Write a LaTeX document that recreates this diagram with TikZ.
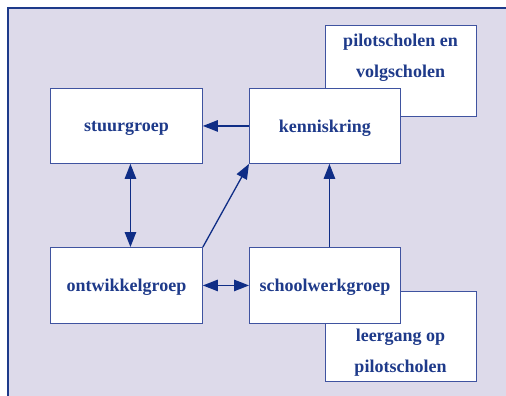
\documentclass[tikz,border=0pt]{standalone}
\usepackage{fontspec}
\setmainfont{Liberation Serif}
\usetikzlibrary{arrows.meta}
\definecolor{panel}{HTML}{DDDAEA}
\definecolor{frameline}{HTML}{1E3A8A}
\definecolor{ink}{HTML}{1E3A8A}
\definecolor{edge}{HTML}{3F53A0}
\definecolor{arrowc}{HTML}{0F2D86}
\begin{document}
\begin{tikzpicture}[x=1pt,y=-1pt,
  box/.style={draw=edge, line width=0.9pt, fill=white, inner sep=0pt,
    text depth=0pt, anchor=north west, text=ink,
    font=\fontsize{18}{31}\selectfont\bfseries},
  label text/.style={text=ink, align=center, inner sep=0pt,
    font=\fontsize{18}{31}\selectfont\bfseries},
  link/.style={draw=arrowc, line width=1.3pt,
    -{Triangle[length=15pt,width=11.5pt]}},
  duplex/.style={link, {Triangle[length=15pt,width=11.5pt]}-{Triangle[length=15pt,width=11.5pt]}}
]
\useasboundingbox (0,0) rectangle (506,396);
\clip (0,0) rectangle (506,396);
% panel behind the whole scheme
\draw[draw=frameline, fill=panel, line width=1.2pt] (8,8) rectangle (530,420);

% side boxes, partly covered by the main boxes
\node[box, minimum width=151pt, minimum height=91pt] (pilot) at (325,25) {};
\node[label text] (pilottext) at (400.5,58) {pilotscholen en\\volgscholen};
\node[box, minimum width=151pt, minimum height=90pt] (leergang) at (325,291) {};
\node[label text] (leergangtext) at (400.5,353) {leergang op\\pilotscholen};

% main boxes
\node[box, minimum width=152pt, minimum height=75pt] (stuur) at (50,88) {stuurgroep};
\node[box, minimum width=151pt, minimum height=75pt] (kennis) at (249,88) {kenniskring};
\node[box, minimum width=152pt, minimum height=76pt] (ontw) at (50,247) {ontwikkelgroep};
\node[box, minimum width=151pt, minimum height=76pt] (school) at (249,247) {schoolwerkgroep};

% connectors
\draw[link] (kennis.west) -- (stuur.east);
\draw[duplex] ([xshift=4pt]stuur.south) -- ([xshift=4pt]ontw.north);
\draw[link] (ontw.north east) -- (kennis.south west);
\draw[link] ([xshift=4.5pt]school.north) -- ([xshift=4.5pt]kennis.south);
\draw[duplex] (ontw.east) -- (school.west);
\end{tikzpicture}
\end{document}
